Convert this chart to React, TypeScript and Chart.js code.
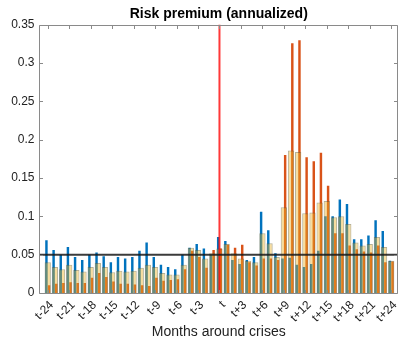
import React, { useEffect, useRef } from 'react';
import { Chart, registerables } from 'chart.js';

Chart.register(...registerables);

const months = [
  -24, -23, -22, -21, -20, -19, -18, -17, -16, -15, -14, -13, -12, -11, -10, -9, -8, -7, -6, -5, -4, -3, -2, -1,
  0,
  1, 2, 3, 4, 5, 6, 7, 8, 9, 10, 11, 12, 13, 14, 15, 16, 17, 18, 19, 20, 21, 22, 23, 24,
];

const tickMonths = [-24, -21, -18, -15, -12, -9, -6, -3, 0, 3, 6, 9, 12, 15, 18, 21, 24];
const tickLabels = ['t-24', 't-21', 't-18', 't-15', 't-12', 't-9', 't-6', 't-3', 't', 't+3', 't+6', 't+9', 't+12', 't+15', 't+18', 't+21', 't+24'];

const yTicks = [0, 0.05, 0.1, 0.15, 0.2, 0.25, 0.3, 0.35];
const yTickLabels = ['0', '0.05', '0.1', '0.15', '0.2', '0.25', '0.3', '0.35'];

// thin blue bars (left)
const blueSeries = [
  0.069, 0.056, 0.050, 0.060, 0.047, 0.043, 0.050, 0.053, 0.048, 0.040,
  0.047, 0.045, 0.047, 0.055, 0.066, 0.047, 0.037, 0.034, 0.031, 0.050,
  0.059, 0.064, 0.058, 0.050,
  0.073,
  0.068, 0.043, 0.038, 0.043, 0.047, 0.106, 0.082, 0.052, 0.045, 0.046,
  0.037, 0.034, 0.038, 0.055, 0.100, 0.100, 0.122, 0.116, 0.070, 0.070,
  0.075, 0.095, 0.081, 0.042,
];

// thin red-orange bars (right)
const redSeries = [
  0.010, 0.012, 0.013, 0.014, 0.013, 0.013, 0.020, 0.026, 0.021, 0.015,
  0.012, 0.012, 0.011, 0.010, 0.009, 0.020, 0.016, 0.017, 0.018, 0.031,
  0.055, 0.047, 0.033, 0.056,
  0.058,
  0.063, 0.059, 0.063, 0.040, 0.036, 0.045, 0.045, 0.043, 0.180, 0.326,
  0.330, 0.177, 0.172, 0.183, 0.140, 0.078, 0.078, 0.062, 0.057, 0.054,
  0.053, 0.062, 0.040, 0.041,
];

// wide translucent yellow bars
const yellowSeries = [
  0.040, 0.034, 0.031, 0.037, 0.030, 0.028, 0.034, 0.039, 0.034, 0.027,
  0.029, 0.028, 0.029, 0.033, 0.037, 0.034, 0.026, 0.024, 0.024, 0.037,
  0.059, 0.056, 0.045, 0.052,
  0.058,
  0.064, 0.052, 0.045, 0.042, 0.040, 0.078, 0.065, 0.047, 0.112, 0.186,
  0.184, 0.104, 0.105, 0.118, 0.120, 0.099, 0.100, 0.090, 0.066, 0.062,
  0.064, 0.073, 0.060, 0.042,
];

const refLevel = 0.05;
const crisisMonth = 0;

const overlayPlugin = {
  id: 'overlayLines',
  afterDatasetsDraw(chart: any) {
    const { ctx, chartArea: a, scales } = chart;
    const x = scales.x;
    const y = scales.y;
    ctx.save();
    // crisis line
    const xx = x.getPixelForValue(crisisMonth);
    ctx.strokeStyle = 'rgba(255,0,0,0.78)';
    ctx.lineWidth = 2;
    ctx.beginPath();
    ctx.moveTo(xx, a.top);
    ctx.lineTo(xx, a.bottom);
    ctx.stroke();
    // reference level
    const yy = y.getPixelForValue(refLevel);
    ctx.strokeStyle = 'rgba(25,25,25,0.85)';
    ctx.lineWidth = 2;
    ctx.beginPath();
    ctx.moveTo(a.left, yy);
    ctx.lineTo(a.right, yy);
    ctx.stroke();
    // frame
    ctx.strokeStyle = '#8a8a8a';
    ctx.lineWidth = 1;
    const L = Math.round(a.left) - 0.5;
    const R = Math.round(a.right) - 0.5;
    const T = Math.round(a.top) + 0.5;
    const B = Math.round(a.bottom) + 0.5;
    ctx.beginPath();
    ctx.moveTo(L, T);
    ctx.lineTo(R, T);
    ctx.lineTo(R, B);
    ctx.lineTo(L, B);
    ctx.closePath();
    ctx.stroke();
    // inward ticks
    const tl = 3.5;
    ctx.beginPath();
    x.ticks.forEach((t: any) => {
      const px = Math.round(x.getPixelForValue(t.value)) + 0.5;
      ctx.moveTo(px, T);
      ctx.lineTo(px, T + tl);
      ctx.moveTo(px, B);
      ctx.lineTo(px, B - tl);
    });
    y.ticks.forEach((t: any) => {
      const py = Math.round(y.getPixelForValue(t.value)) + 0.5;
      ctx.moveTo(L, py);
      ctx.lineTo(L + tl, py);
      ctx.moveTo(R, py);
      ctx.lineTo(R - tl, py);
    });
    ctx.stroke();
    ctx.restore();
  },
};

export default function App() {
  const canvasRef = useRef<HTMLCanvasElement | null>(null);

  useEffect(() => {
    if (!canvasRef.current) return;
    Chart.defaults.font.family = '"Liberation Sans", Arial, Helvetica, sans-serif';
    const toPts = (vals: number[]) => months.map((m, i) => ({ x: m, y: vals[i] }));
    const chart = new Chart(canvasRef.current, {
      type: 'bar',
      data: {
        datasets: [
          {
            label: 'Yellow',
            data: toPts(yellowSeries),
            backgroundColor: 'rgba(237,177,32,0.43)',
            borderColor: 'rgba(110,100,50,0.5)',
            borderWidth: 1,
            grouped: false,
            barPercentage: 0.88,
            categoryPercentage: 1,
          } as any,
          {
            label: 'Blue',
            data: toPts(blueSeries),
            backgroundColor: '#0072BD',
            borderWidth: 0,
            barPercentage: 0.95,
            categoryPercentage: 0.72,
          } as any,
          {
            label: 'Red',
            data: toPts(redSeries),
            backgroundColor: '#D95319',
            borderWidth: 0,
            barPercentage: 0.95,
            categoryPercentage: 0.72,
          } as any,
        ],
      },
      options: {
        animation: false,
        responsive: false,
        maintainAspectRatio: false,
        layout: { padding: { left: 0, right: 1, top: 0, bottom: 0 } },
        plugins: {
          legend: { display: false },
          tooltip: { enabled: false },
          title: {
            display: true,
            text: 'Risk premium (annualized)',
            color: '#000',
            font: { size: 14, weight: 'bold' },
            padding: { top: 6, bottom: 2 },
            fullSize: false,
          } as any,
        },
        scales: {
          x: {
            type: 'linear',
            min: -25.15,
            max: 24.95,
            offset: false,
            grid: { display: false, drawTicks: false },
            border: { display: false },
            afterBuildTicks: (s: any) => {
              s.ticks = tickMonths.map((v) => ({ value: v }));
            },
            ticks: {
              autoSkip: false,
              minRotation: 45,
              maxRotation: 45,
              padding: 5,
              labelOffset: 4,
              color: '#222',
              font: { size: 12 },
              callback: (_v: any, i: number) => tickLabels[i],
            },
            title: {
              display: true,
              text: 'Months around crises',
              color: '#222',
              font: { size: 14 },
              padding: { top: 0, bottom: 4 },
            },
            afterFit: (s: any) => {
              s.height = 52;
              s.paddingLeft = 0;
              s.paddingRight = 0;
            },
          } as any,
          y: {
            min: 0,
            max: 0.35,
            grid: { display: false, drawTicks: false },
            border: { display: false },
            afterBuildTicks: (s: any) => {
              s.ticks = yTicks.map((v) => ({ value: v }));
            },
            ticks: {
              padding: 5,
              color: '#222',
              font: { size: 12 },
              callback: (_v: any, i: number) => yTickLabels[i],
            },
            afterFit: (s: any) => {
              s.width = 39.5;
            },
          } as any,
        },
      },
      plugins: [overlayPlugin],
    });
    return () => chart.destroy();
  }, []);

  return (
    <div style={{ position: 'absolute', left: 0, top: 0, width: 399, height: 345, background: '#fff' }}>
      <canvas ref={canvasRef} width={399} height={345} style={{ display: 'block', width: 399, height: 345 }} />
    </div>
  );
}
